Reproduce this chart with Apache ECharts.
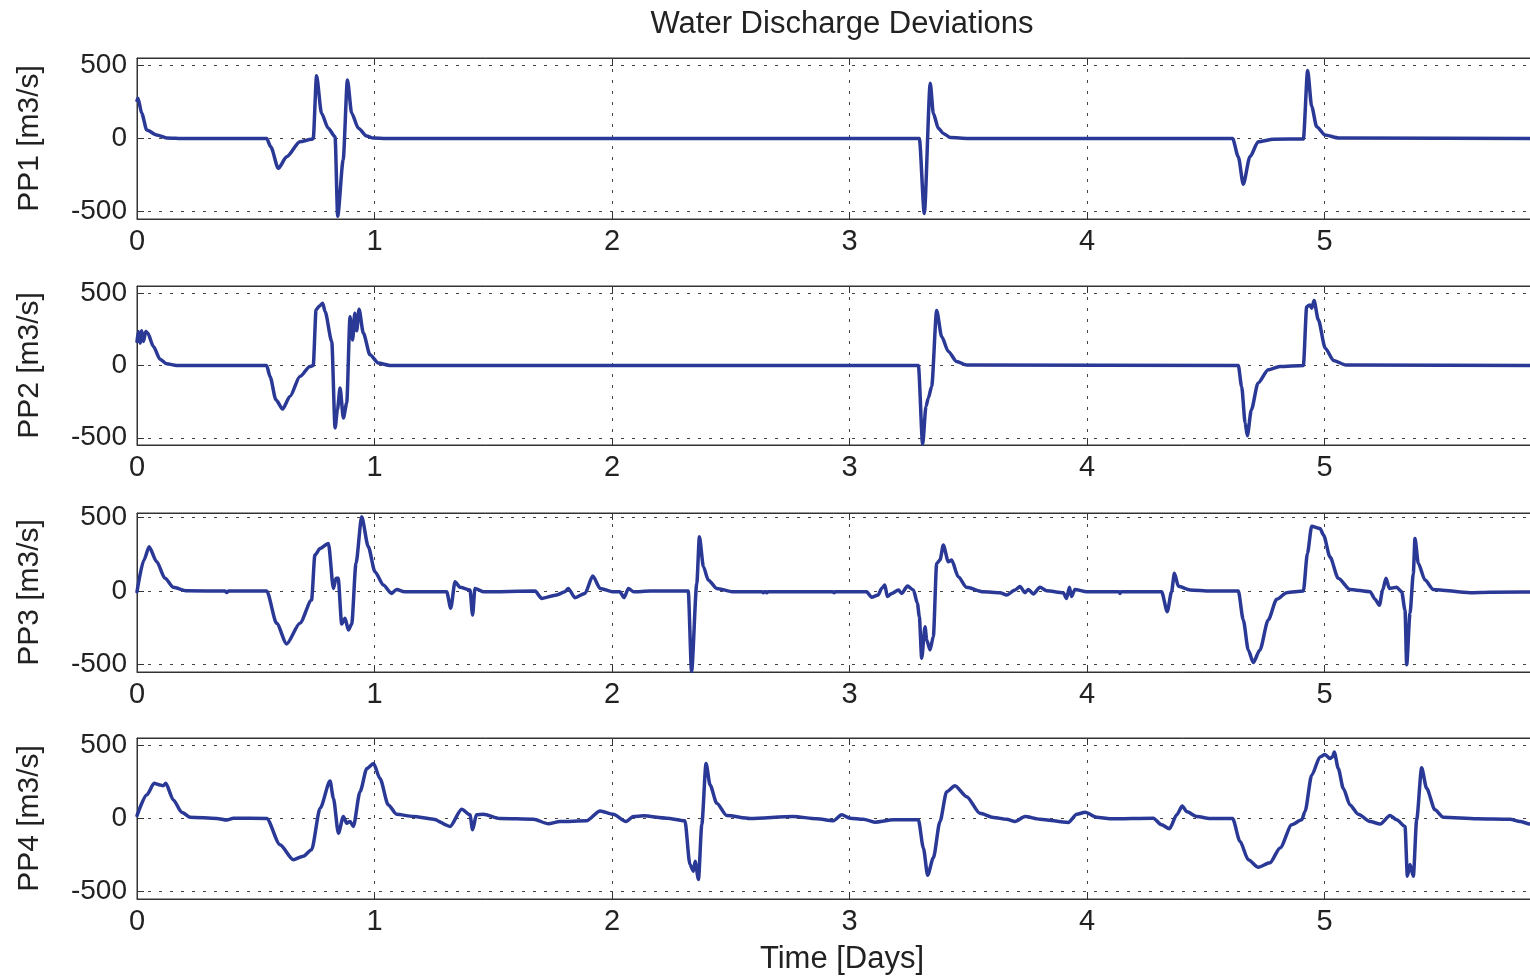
<!DOCTYPE html>
<html>
<head>
<meta charset="utf-8">
<script src="https://cdn.jsdelivr.net/npm/echarts@6/dist/echarts.min.js"></script>
<style>
html,body{margin:0;padding:0;background:#fff;}
#chart{width:1530px;height:977px;}
</style>
</head>
<body>
<div id="chart"></div>
<script>
// ---- data (time in days, discharge deviation in m3/s) ----
const xTicks = [0, 1, 2, 3, 4, 5, 6];
const yTicks = [-500, 0, 500];
const panelNames = ['PP1 [m3/s]', 'PP2 [m3/s]', 'PP3 [m3/s]', 'PP4 [m3/s]'];
const yMin = [-550, -550, -550, -550];
const yMax = [550, 550, 530, 550];

const pp1 = [[0,260],[0.004,275],[0.02,172],[0.041,58],[0.083,24],[0.125,4],[0.2,0],[0.546,0],[0.563,-56],[0.595,-204],[0.63,-125],[0.686,-22],[0.735,-5],[0.742,0],[0.756,428],[0.777,172],[0.805,70],[0.834,12],[0.845,-531],[0.868,-147],[0.886,400],[0.904,172],[0.932,70],[0.967,17],[0.995,3],[1.05,0],[3.294,0],[3.315,-512],[3.340,378],[3.353,172],[3.374,70],[3.395,35],[3.425,6],[3.5,0],[4.613,0],[4.637,-125],[4.658,-312],[4.686,-125],[4.721,-22],[4.785,-5],[4.911,-3],[4.929,465],[4.946,218],[4.967,81],[5.002,24],[5.06,3],[6,0]];

const pp2 = [[0,166],[0.006,235],[0.013,155],[0.02,240],[0.027,166],[0.037,235],[0.045,224],[0.069,131],[0.097,44],[0.125,12],[0.167,0],[0.546,0],[0.56,-76],[0.585,-237],[0.613,-301],[0.644,-214],[0.686,-76],[0.728,-7],[0.742,0],[0.754,385],[0.768,412],[0.782,431],[0.792,373],[0.82,166],[0.834,-432],[0.844,-306],[0.855,-156],[0.869,-363],[0.883,-260],[0.897,338],[0.908,177],[0.917,362],[0.925,240],[0.935,389],[0.953,224],[0.981,74],[1.016,17],[1.065,0],[3.290,0],[3.308,-545],[3.322,-283],[3.332,-225],[3.346,-145],[3.367,380],[3.388,200],[3.416,97],[3.451,28],[3.493,3],[4.637,0],[4.651,-145],[4.666,-398],[4.675,-486],[4.692,-306],[4.72,-122],[4.763,-30],[4.812,-7],[4.911,0],[4.925,407],[4.939,419],[4.946,396],[4.956,449],[4.974,316],[5.003,120],[5.038,35],[5.09,3],[6,0]];

const pp3 = [[0,-5],[0.029,210],[0.051,300],[0.083,199],[0.118,86],[0.153,25],[0.209,2],[0.37,0],[0.378,-10],[0.386,0],[0.546,0],[0.588,-219],[0.630,-359],[0.686,-219],[0.735,-61],[0.749,244],[0.771,289],[0.806,323],[0.827,18],[0.838,86],[0.847,86],[0.862,-224],[0.876,-185],[0.890,-264],[0.904,-224],[0.922,187],[0.946,504],[0.974,300],[1.002,131],[1.037,41],[1.072,-16],[1.093,11],[1.126,-5],[1.304,-5],[1.321,-117],[1.339,63],[1.360,25],[1.402,7],[1.413,-163],[1.423,18],[1.458,-5],[1.676,0],[1.704,-50],[1.767,-27],[1.802,-5],[1.816,18],[1.844,-45],[1.886,-16],[1.919,102],[1.95,18],[2.005,-5],[2.033,-5],[2.051,-45],[2.069,18],[2.09,-5],[2.16,0],[2.321,0],[2.335,-547],[2.357,52],[2.368,368],[2.385,165],[2.405,75],[2.441,18],[2.51,-5],[2.632,-5],[2.637,-12],[2.642,-5],[2.648,-5],[2.652,-12],[2.657,-5],[2.93,-5],[2.935,-12],[2.94,-5],[3.072,-5],[3.093,-42],[3.121,-27],[3.135,18],[3.149,41],[3.159,-38],[3.178,-16],[3.206,7],[3.220,-16],[3.244,34],[3.269,7],[3.286,-84],[3.294,-174],[3.304,-456],[3.318,-242],[3.325,-332],[3.339,-400],[3.353,-309],[3.367,187],[3.381,210],[3.395,312],[3.416,199],[3.430,210],[3.458,97],[3.493,25],[3.563,-5],[3.634,-11],[3.662,-27],[3.697,7],[3.718,30],[3.739,-11],[3.753,11],[3.774,-20],[3.802,25],[3.83,2],[3.90,-11],[3.914,-50],[3.926,25],[3.935,-38],[3.949,11],[3.999,-5],[4.135,-5],[4.139,-16],[4.143,-5],[4.314,-5],[4.338,-140],[4.356,-5],[4.368,120],[4.385,32],[4.434,7],[4.519,0],[4.637,0],[4.658,-196],[4.679,-400],[4.700,-486],[4.728,-400],[4.763,-196],[4.799,-56],[4.841,-11],[4.911,0],[4.928,255],[4.946,440],[4.981,425],[4.996,380],[5.023,232],[5.058,86],[5.107,11],[5.192,-5],[5.213,-56],[5.231,-97],[5.245,7],[5.259,86],[5.273,18],[5.304,25],[5.325,-5],[5.339,-129],[5.346,-501],[5.360,-151],[5.374,120],[5.381,357],[5.395,187],[5.423,75],[5.458,11],[5.613,-11],[5.697,-8],[6,-5]];

const pp4 = [[0,20],[0.041,161],[0.072,240],[0.097,229],[0.11,224],[0.121,240],[0.153,127],[0.188,43],[0.223,9],[0.336,0],[0.378,-11],[0.406,2],[0.546,0],[0.602,-179],[0.658,-281],[0.7,-258],[0.735,-213],[0.771,70],[0.813,256],[0.827,138],[0.848,-100],[0.869,14],[0.883,-32],[0.897,-20],[0.911,-54],[0.939,183],[0.968,342],[0.996,376],[1.023,274],[1.058,93],[1.093,29],[1.163,14],[1.248,-5],[1.318,-54],[1.367,63],[1.402,25],[1.413,-77],[1.429,25],[1.458,29],[1.528,0],[1.669,-5],[1.732,-36],[1.781,-20],[1.893,-16],[1.95,52],[2.005,29],[2.059,-20],[2.09,14],[2.132,18],[2.23,2],[2.307,-16],[2.328,-314],[2.343,-360],[2.35,-292],[2.364,-416],[2.378,-43],[2.396,376],[2.413,229],[2.441,104],[2.483,20],[2.581,0],[2.763,14],[2.862,-2],[2.932,-16],[2.967,25],[3.002,2],[3.058,-5],[3.107,-25],[3.184,-9],[3.290,-9],[3.311,-201],[3.329,-387],[3.353,-269],[3.381,-20],[3.409,183],[3.444,224],[3.493,149],[3.549,36],[3.606,7],[3.662,-5],[3.697,-20],[3.739,14],[3.802,-5],[3.921,-27],[3.957,29],[3.992,43],[4.041,9],[4.097,-2],[4.279,2],[4.314,-43],[4.347,-70],[4.378,25],[4.401,86],[4.419,48],[4.462,14],[4.518,0],[4.613,0],[4.644,-156],[4.679,-281],[4.721,-333],[4.77,-303],[4.813,-201],[4.862,-43],[4.904,-9],[4.918,48],[4.946,296],[4.981,421],[5.002,437],[5.023,410],[5.034,421],[5.041,455],[5.058,342],[5.079,206],[5.107,93],[5.142,29],[5.192,-20],[5.234,-38],[5.276,20],[5.304,-9],[5.339,-54],[5.349,-394],[5.36,-314],[5.374,-394],[5.388,-9],[5.409,346],[5.43,206],[5.465,59],[5.5,9],[5.641,-2],[5.781,-5],[5.823,-20],[5.865,-38],[6,-45]];

const seriesData = [pp1, pp2, pp3, pp4];

// ---- layout ----
const FONT = '"Liberation Sans", Arial, Helvetica, sans-serif';
const gridTops = [58, 286, 513, 738];
const gridHeights = [161, 159, 159, 161];
const lineColor = '#2b3996';
const gridLineStyle = {type: [3, 8], color: '#444', width: 1};

const grids = [], xAxes = [], yAxes = [], series = [];
for (let i = 0; i < 4; i++) {
  grids.push({left: 137, width: 1425, top: gridTops[i], height: gridHeights[i],
    outerBoundsMode: 'none', containLabel: false,
    show: true, borderColor: '#333', borderWidth: 1, backgroundColor: 'transparent'});
  xAxes.push({
    gridIndex: i, type: 'value', min: xTicks[0], max: xTicks[xTicks.length - 1], interval: 1,
    position: 'bottom',
    axisLine: {show: true, onZero: false, lineStyle: {color: '#333', width: 1}},
    axisTick: {show: true, inside: true, length: 7, lineStyle: {color: '#333'}},
    axisLabel: {show: true, fontSize: 29, color: '#222', fontFamily: FONT, margin: 8},
    splitLine: {show: true, lineStyle: gridLineStyle}
  });
  xAxes.push({
    gridIndex: i, type: 'value', min: xTicks[0], max: xTicks[xTicks.length - 1], interval: 1,
    position: 'top',
    axisLine: {show: true, onZero: false, lineStyle: {color: '#333', width: 1}},
    axisTick: {show: true, inside: true, length: 7, lineStyle: {color: '#333'}},
    axisLabel: {show: false},
    splitLine: {show: false}
  });
  yAxes.push({
    gridIndex: i, type: 'value', min: yMin[i], max: yMax[i],
    name: panelNames[i], nameLocation: 'middle', nameGap: 92,
    nameTextStyle: {fontSize: 30, color: '#222', fontFamily: FONT},
    axisLine: {show: true, onZero: false, lineStyle: {color: '#333', width: 1}},
    axisTick: {show: true, inside: true, length: 7, customValues: yTicks, lineStyle: {color: '#333'}},
    axisLabel: {show: true, customValues: yTicks, fontSize: 28, color: '#222', fontFamily: FONT, margin: 10},
    splitLine: {show: true, lineStyle: gridLineStyle}
  });
  series.push({
    type: 'line', xAxisIndex: i * 2, yAxisIndex: i, data: seriesData[i],
    showSymbol: false, symbol: 'none', smooth: 0.25, smoothMonotone: 'x',
    lineStyle: {width: 3.5, color: lineColor, join: 'round', cap: 'round'}, itemStyle: {color: lineColor},
    animation: false, silent: true
  });
}

const chart = echarts.init(document.getElementById('chart'), null, {renderer: 'canvas'});
chart.setOption({
  backgroundColor: '#fff',
  animation: false,
  title: [
    {text: 'Water Discharge Deviations', left: 837, textAlign: 'center', top: 4,
      textStyle: {fontSize: 31, fontWeight: 'normal', color: '#222', fontFamily: FONT}},
    {text: 'Time [Days]', left: 837, textAlign: 'center', top: 939,
      textStyle: {fontSize: 31, fontWeight: 'normal', color: '#222', fontFamily: FONT}}
  ],
  grid: grids,
  xAxis: xAxes,
  yAxis: yAxes,
  series: series
});
</script>
</body>
</html>
